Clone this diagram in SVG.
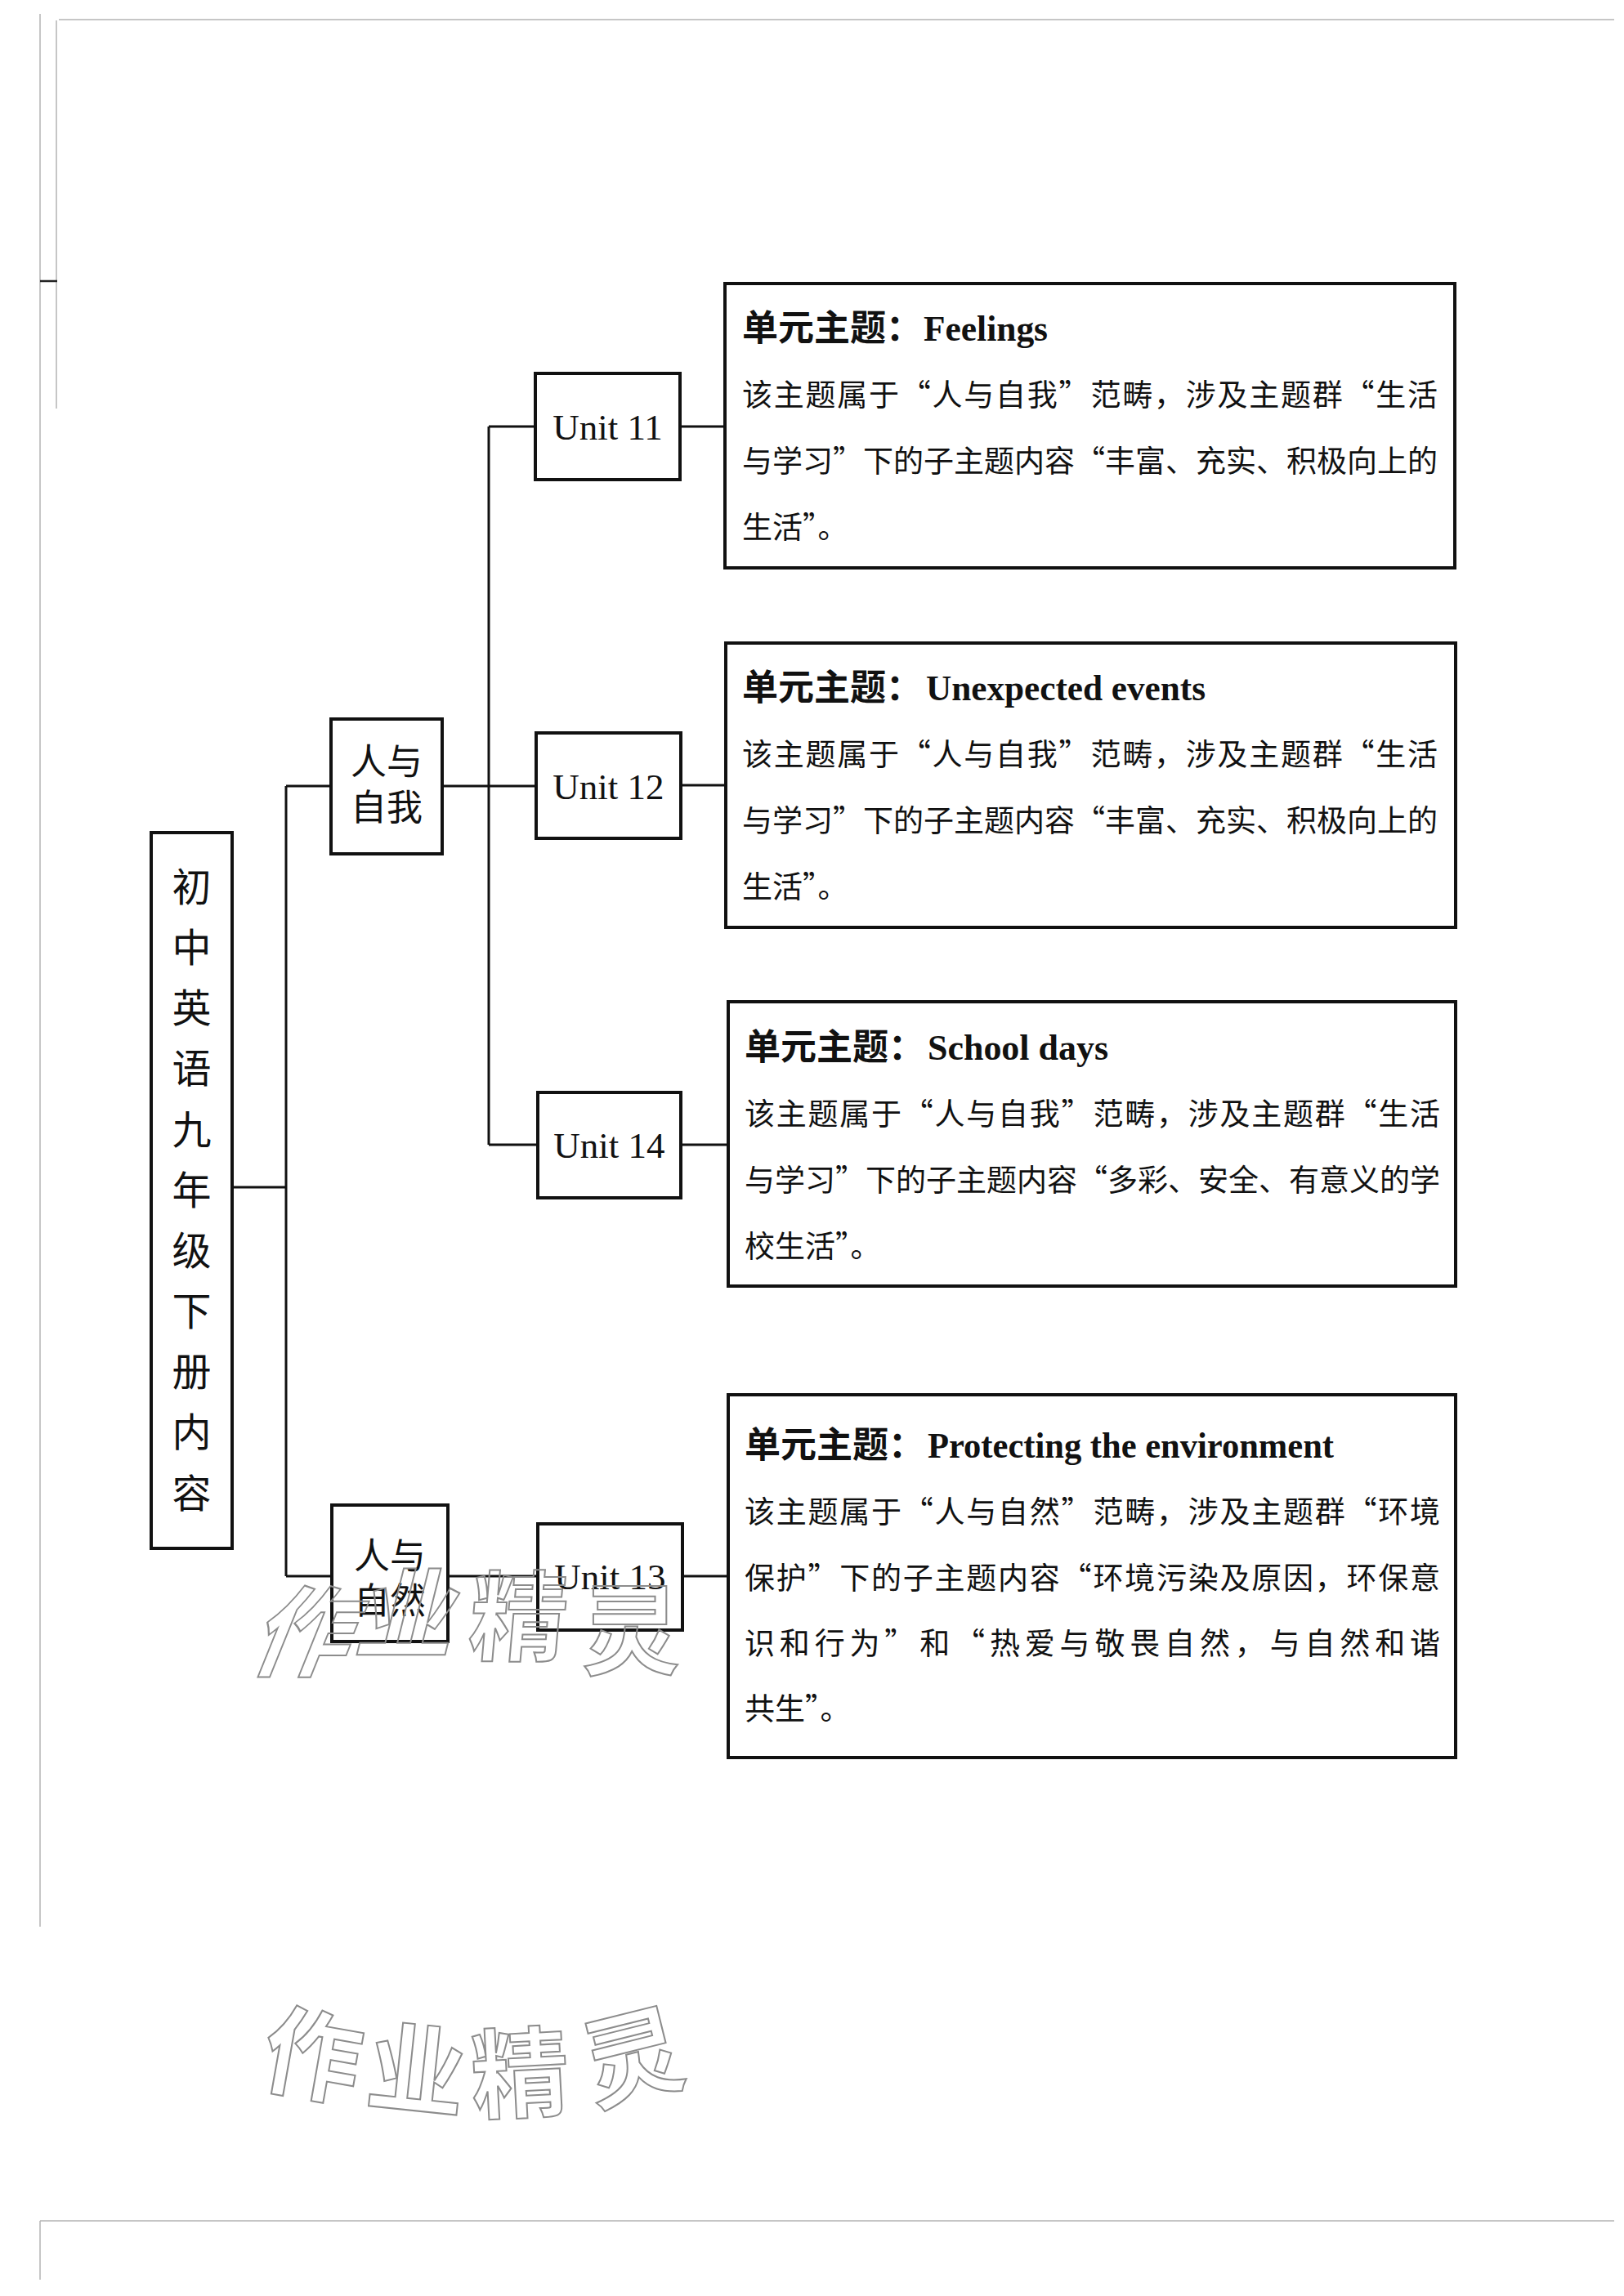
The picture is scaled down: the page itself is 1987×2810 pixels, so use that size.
<svg xmlns="http://www.w3.org/2000/svg" width="1987" height="2810" viewBox="0 0 1987 2810">
<style>
.page{fill:none;stroke:#b4b4b4;stroke-width:1.5}
.box{fill:#fff;stroke:#111;stroke-width:4}
.conn{fill:none;stroke:#111;stroke-width:3}
.cjk{font-family:"Noto Sans CJK SC","Noto Sans CJK JP",sans-serif;fill:#111}
.root{font-size:48px;text-anchor:middle}
.mid{font-size:44px;text-anchor:middle}
.unit{font-family:"Liberation Serif",serif;font-size:45px;text-anchor:middle;fill:#111}
.ttl{font-family:"Noto Sans CJK SC",sans-serif;font-size:44px;font-weight:700;fill:#111}
.en{font-family:"Liberation Serif",serif;font-size:44px;font-weight:700;fill:#111}
.body{font-family:"Noto Sans CJK SC",sans-serif;font-size:37px;fill:#111}
.wm{font-family:"Noto Sans CJK SC",sans-serif;font-weight:700;font-size:120px;fill:none;stroke:#8c8c8c;stroke-width:2;text-anchor:middle}
</style>
<rect width="1987" height="2810" fill="#fff"/>
<g id="page-edges">
<path class="page" d="M72 24 H1975 M49 17 V2358 M69 25 V500 M49 2718 H1975 M49 2718 V2790"/>
<path d="M49 344 H70" stroke="#222" stroke-width="2.5"/>
</g>
<g id="connectors">
<path class="conn" d="M284 1453 H350 M350 962 V1929 M350 962 H405 M350 1929 H406"/>
<path class="conn" d="M541 962 H656 M598 522 V1401 M598 522 H655 M598 1401 H658"/>
<path class="conn" d="M548 1929 H658"/>
<path class="conn" d="M832 522 H887 M833 961 H888 M833 1401 H891 M835 1929 H891"/>
</g>
<g id="root">
<rect class="box" x="185" y="1019" width="99" height="876"/>
<text class="cjk root"><tspan x="234.5" y="1103">初</tspan><tspan x="234.5" y="1177">中</tspan><tspan x="234.5" y="1251">英</tspan><tspan x="234.5" y="1325">语</tspan><tspan x="234.5" y="1400">九</tspan><tspan x="234.5" y="1474">年</tspan><tspan x="234.5" y="1548">级</tspan><tspan x="234.5" y="1622">下</tspan><tspan x="234.5" y="1696">册</tspan><tspan x="234.5" y="1770">内</tspan><tspan x="234.5" y="1845">容</tspan></text>
</g>
<g id="self">
<rect class="box" x="405" y="880" width="136" height="165"/>
<text class="cjk mid"><tspan x="473" y="948">人与</tspan><tspan x="473" y="1004">自我</tspan></text>
</g>
<g id="nature">
<rect class="box" x="406" y="1842" width="142" height="167"/>
<text class="cjk mid"><tspan x="477" y="1920">人与</tspan><tspan x="477" y="1975">自然</tspan></text>
</g>
<g id="unit11">
<rect class="box" x="655" y="457" width="177" height="130"/>
<text class="unit" x="743.5" y="538">Unit 11</text>
</g>
<g id="unit12">
<rect class="box" x="656" y="897" width="177" height="129"/>
<text class="unit" x="744.5" y="978">Unit 12</text>
</g>
<g id="unit14">
<rect class="box" x="658" y="1337" width="175" height="129"/>
<text class="unit" x="745.5" y="1417">Unit 14</text>
</g>
<g id="unit13">
<rect class="box" x="658" y="1865" width="177" height="130"/>
<text class="unit" x="746.5" y="1945">Unit 13</text>
</g>
<g id="desc11">
<rect class="box" x="887" y="347" width="893" height="348"/>
<text class="ttl" x="908" y="417">单元主题：</text>
<text class="en" x="1130" y="417" textLength="152" lengthAdjust="spacingAndGlyphs">Feelings</text>
<text class="body" x="908" y="497" textLength="851" lengthAdjust="spacing">该主题属于“人与自我”范畴，涉及主题群“生活</text>
<text class="body" x="908" y="578" textLength="851" lengthAdjust="spacing">与学习”下的子主题内容“丰富、充实、积极向上的</text>
<text class="body" x="908" y="659">生活”。</text>
</g>
<g id="desc12">
<rect class="box" x="888" y="787" width="893" height="348"/>
<text class="ttl" x="908" y="857">单元主题：</text>
<text class="en" x="1133" y="857" textLength="342" lengthAdjust="spacingAndGlyphs">Unexpected events</text>
<text class="body" x="908" y="937" textLength="851" lengthAdjust="spacing">该主题属于“人与自我”范畴，涉及主题群“生活</text>
<text class="body" x="908" y="1018" textLength="851" lengthAdjust="spacing">与学习”下的子主题内容“丰富、充实、积极向上的</text>
<text class="body" x="908" y="1099">生活”。</text>
</g>
<g id="desc14">
<rect class="box" x="891" y="1226" width="890" height="348"/>
<text class="ttl" x="911" y="1297">单元主题：</text>
<text class="en" x="1135" y="1297" textLength="221" lengthAdjust="spacingAndGlyphs">School days</text>
<text class="body" x="911" y="1377" textLength="851" lengthAdjust="spacing">该主题属于“人与自我”范畴，涉及主题群“生活</text>
<text class="body" x="911" y="1458" textLength="851" lengthAdjust="spacing">与学习”下的子主题内容“多彩、安全、有意义的学</text>
<text class="body" x="911" y="1539">校生活”。</text>
</g>
<g id="desc13">
<rect class="box" x="891" y="1707" width="890" height="444"/>
<text class="ttl" x="911" y="1784">单元主题：</text>
<text class="en" x="1135" y="1784" textLength="497" lengthAdjust="spacingAndGlyphs">Protecting the environment</text>
<text class="body" x="911" y="1864" textLength="851" lengthAdjust="spacing">该主题属于“人与自然”范畴，涉及主题群“环境</text>
<text class="body" x="911" y="1945" textLength="851" lengthAdjust="spacing">保护”下的子主题内容“环境污染及原因，环保意</text>
<text class="body" x="911" y="2025" textLength="851" lengthAdjust="spacing">识和行为”和“热爱与敬畏自然，与自然和谐</text>
<text class="body" x="911" y="2105">共生”。</text>
</g>
<g id="watermark-1">
<text class="wm" transform="translate(380 1997) skewX(-22)" x="0" y="45">作</text>
<text class="wm" transform="translate(503 1975) skewX(-14)" x="0" y="45">业</text>
<text class="wm" transform="translate(635 1978) skewX(-5)" x="0" y="45">精</text>
<text class="wm" transform="translate(772 1995) skewX(0)" x="0" y="45">灵</text>
</g>
<g id="watermark-2">
<text class="wm" transform="translate(383 2515) rotate(10)" x="0" y="45">作</text>
<text class="wm" transform="translate(510 2533) rotate(6)" x="0" y="45">业</text>
<text class="wm" transform="translate(636 2537) rotate(-3)" x="0" y="45">精</text>
<text class="wm" transform="translate(774 2517) rotate(-14)" x="0" y="45">灵</text>
</g>
</svg>
